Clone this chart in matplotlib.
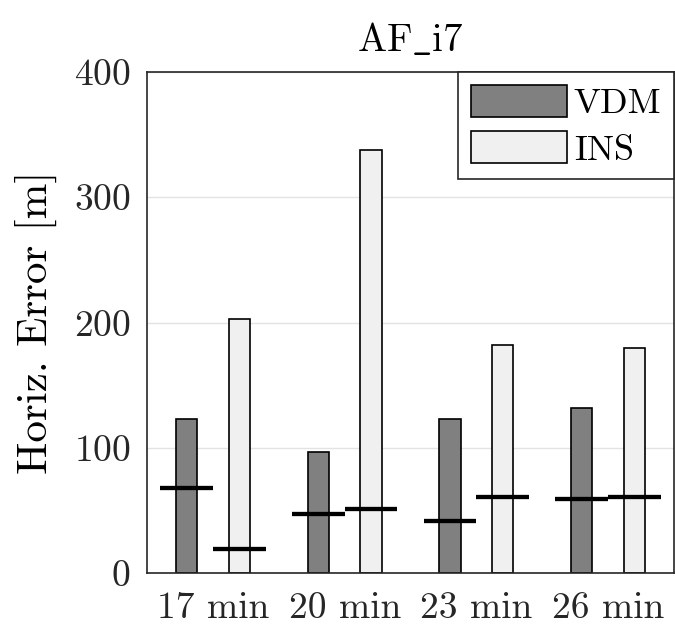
import numpy as np
import matplotlib
matplotlib.use("Agg")
import matplotlib.pyplot as plt

# Computer Modern look for all text
plt.rcParams['font.family'] = 'serif'
plt.rcParams['font.serif'] = ['cmr10']
plt.rcParams['mathtext.fontset'] = 'cm'
plt.rcParams['axes.formatter.use_mathtext'] = True

# Data
durations = ["17 min", "20 min", "23 min", "26 min"]
vdm_max = [123, 97, 123, 132]
ins_max = [203, 338, 182, 180]
vdm_median = [68, 47, 42, 59]
ins_median = [19.5, 51, 61, 61]

VDM_COLOR = "#808080"
INS_COLOR = "#f0f0f0"
EDGE = "#262626"

x = np.arange(1, len(durations) + 1)
offset = 0.2
bar_w = 0.16
line_w = 0.4

fig = plt.figure(figsize=(6.75, 6.35), dpi=100)
ax = fig.add_axes([0.2178, 0.0972, 0.7807, 0.7894])

ax.bar(x - offset, vdm_max, width=bar_w, color=VDM_COLOR, edgecolor="black",
       linewidth=1.2, label="VDM", zorder=2)
ax.bar(x + offset, ins_max, width=bar_w, color=INS_COLOR, edgecolor="black",
       linewidth=1.2, label="INS", zorder=2)

# median markers across each bar
ax.hlines(vdm_median, x - offset - line_w / 2, x - offset + line_w / 2,
          colors="black", linewidth=3.1, zorder=3)
ax.hlines(ins_median, x + offset - line_w / 2, x + offset + line_w / 2,
          colors="black", linewidth=3.1, zorder=3)

ax.set_xlim(0.5, 4.5)
ax.set_ylim(0, 400)
ax.set_yticks([0, 100, 200, 300, 400])
ax.set_xticks(x)
ax.set_xticklabels(durations)

ax.grid(axis="y", color="#e3e3e3", linewidth=1.0, zorder=0)
ax.set_axisbelow(True)
for s in ax.spines.values():
    s.set_color(EDGE)
    s.set_linewidth(1.2)

ax.tick_params(axis="both", length=0, labelsize=27, colors="#262626")
ax.tick_params(axis="y", pad=12)
ax.tick_params(axis="x", pad=13)

ax.set_ylabel("Horiz. Error [m]", fontsize=31, labelpad=12)
ax.set_title(r"$\mathrm{AF\_i7}$", fontsize=28, pad=15)

leg = ax.legend(loc="upper right", fontsize=26, frameon=True, fancybox=False,
                borderaxespad=0, borderpad=0.35, handlelength=2.65,
                handleheight=1.0, handletextpad=0.2, labelspacing=0.3)
leg.get_frame().set_edgecolor(EDGE)
leg.get_frame().set_linewidth(1.2)
leg.get_frame().set_alpha(1)

fig.savefig("out.png", dpi=100)
